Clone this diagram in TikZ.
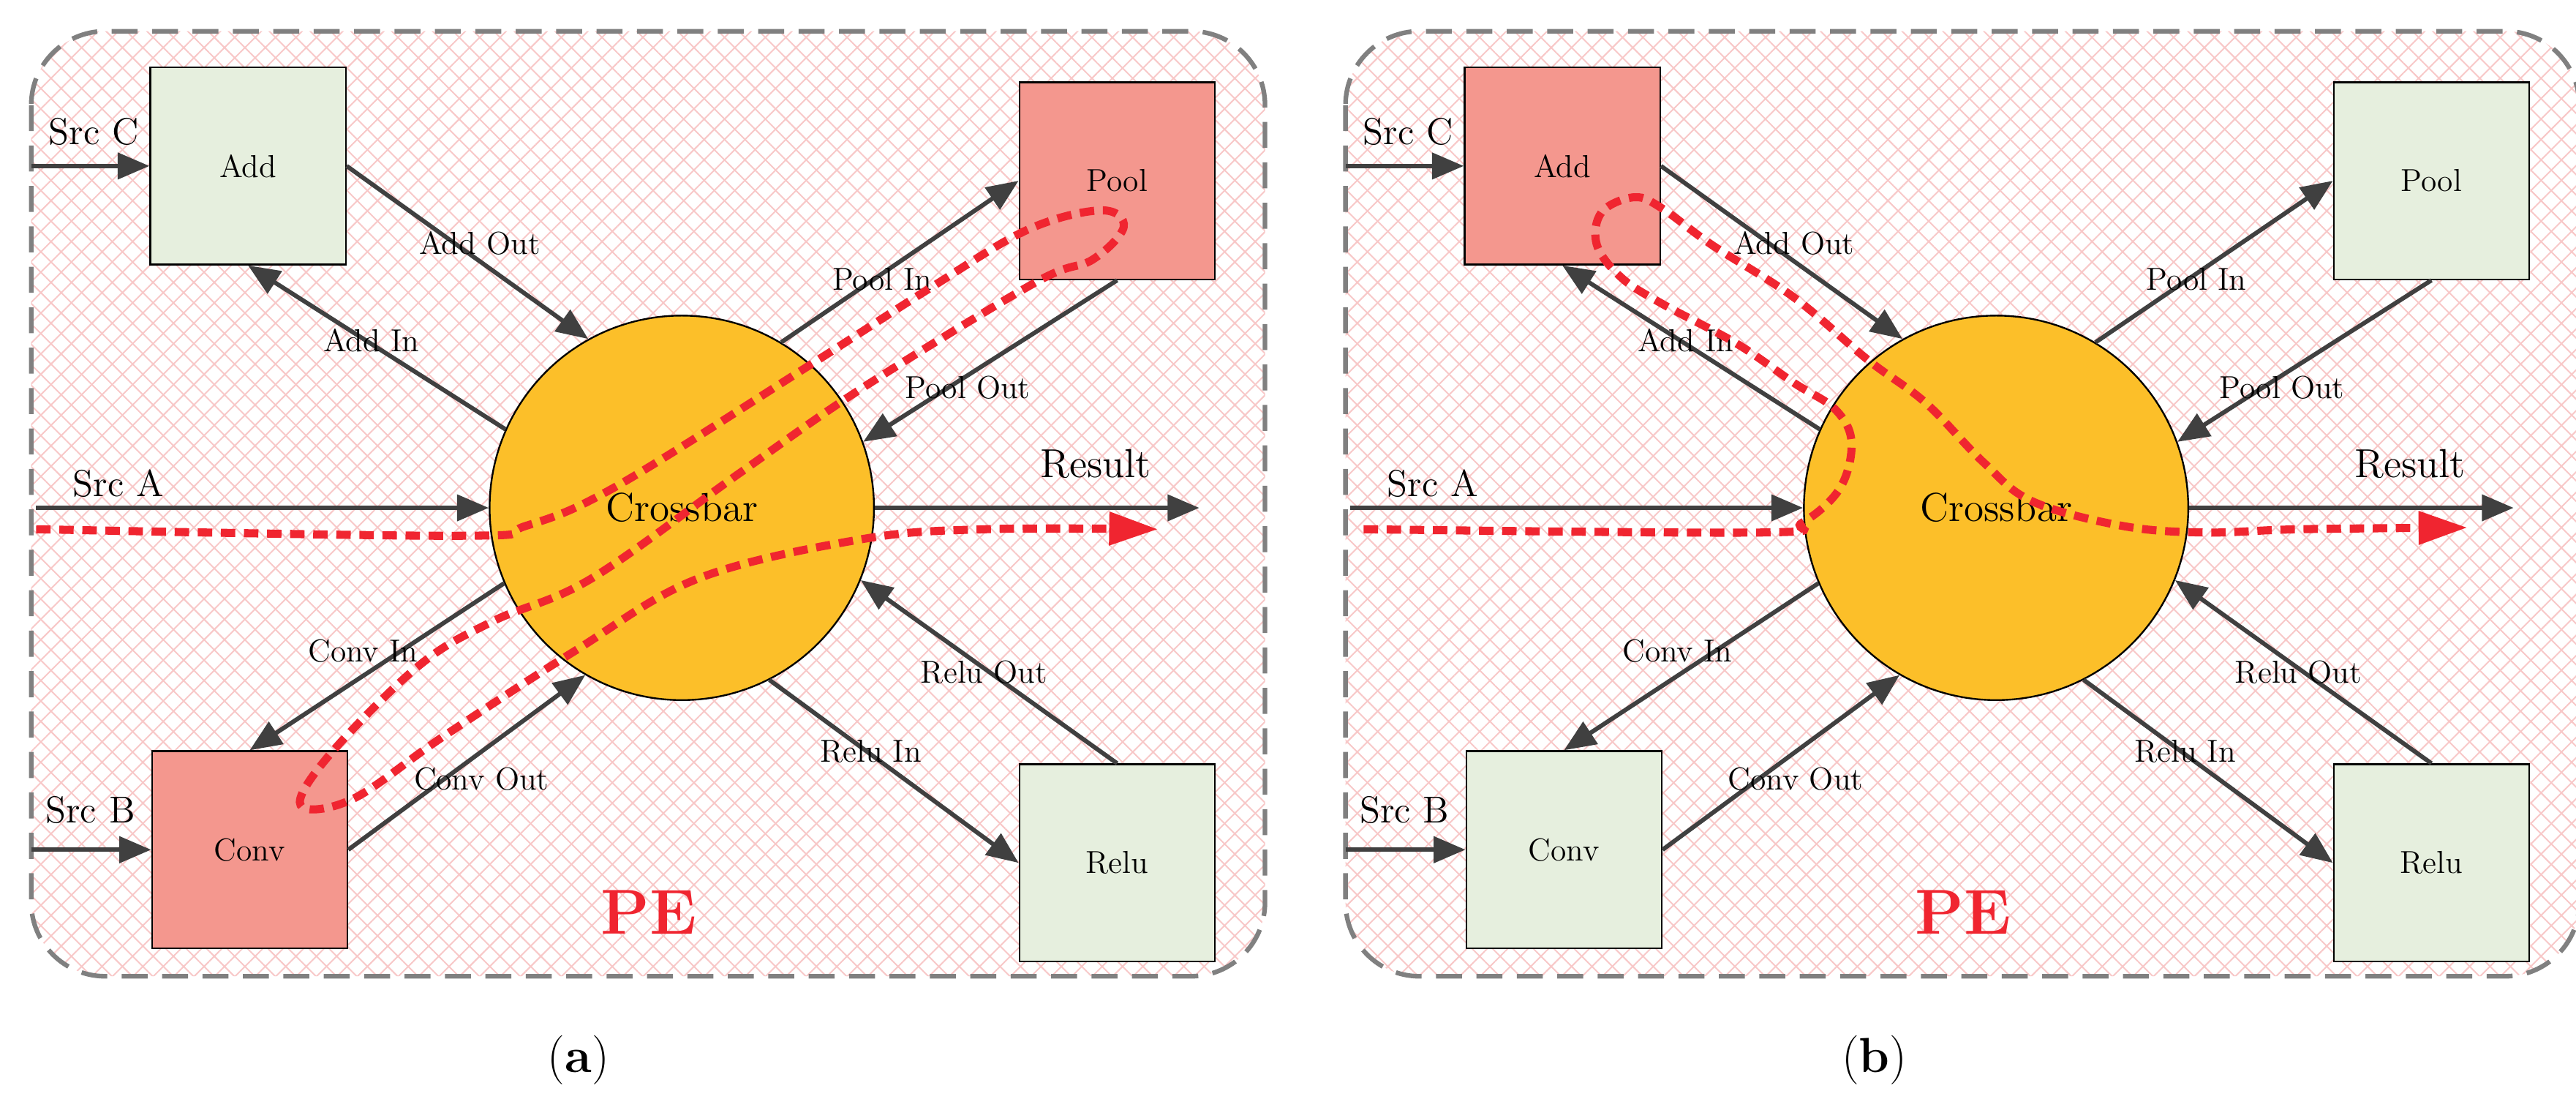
\documentclass[tikz,border=0pt]{standalone}
\usetikzlibrary{arrows.meta,patterns.meta}
\definecolor{boxg}{RGB}{230,239,222}
\definecolor{boxr}{RGB}{244,151,142}
\definecolor{cbar}{RGB}{252,191,41}
\definecolor{arr}{RGB}{64,64,64}
\definecolor{redp}{RGB}{240,37,48}
\definecolor{hatch}{RGB}{248,200,200}
\definecolor{frm}{RGB}{128,128,128}
\tikzset{
  unit box/.style={draw=black,line width=0.6pt,minimum width=2.38cm,minimum height=2.4cm,inner sep=0pt,font=\fontsize{11}{13}\selectfont},
  conn/.style={draw=arr,line width=1.5pt,-{Triangle[length=11pt,width=9pt]}},
  lbl/.style={font=\fontsize{11}{13}\selectfont,inner sep=0pt},
  src/.style={font=\fontsize{13}{15}\selectfont,inner sep=0pt},
  route/.style={draw=redp,line width=2.8pt,dash pattern=on 5pt off 3pt,-{Triangle[length=17pt,width=11pt]}},
}
\newcommand{\pepanel}[5]{%
\begin{scope}[xshift=#1*0.02cm,name prefix=#2-]
  \path[fill=white,rounded corners=0.9cm] (19,19) rectangle (770,594);
  \path[pattern={Lines[angle=45,distance=5pt,line width=0.5pt]},pattern color=hatch,rounded corners=0.9cm] (19,19) rectangle (770,594);
  \path[pattern={Lines[angle=-45,distance=5pt,line width=0.5pt]},pattern color=hatch,rounded corners=0.9cm] (19,19) rectangle (770,594);
  \draw[frm,line width=1.6pt,dash pattern=on 9pt off 5pt,rounded corners=0.9cm] (19,19) rectangle (770,594);
  \node[unit box,fill=#3] (add) at (151,101) {Add};
  \node[unit box,fill=#4] (pool) at (680,110) {Pool};
  \node[unit box,fill=#5] (conv) at (152,517) {Conv};
  \node[unit box,fill=boxg] (relu) at (680,525) {Relu};
  \node[circle,draw=black,line width=0.6pt,fill=cbar,minimum size=4.68cm,inner sep=0pt,font=\fontsize{14}{16}\selectfont] (cb) at (415,309) {Crossbar};
  \coordinate (sc) at (19,101);
  \coordinate (sb) at (19,517);
  \coordinate (sa) at (22,309);
  \coordinate (res) at (730,309);
  \draw[conn] (sc) -- (add.west);
  \draw[conn] (sb) -- (conv.west);
  \draw[conn] (sa) -- (cb.west);
  \draw[conn] (cb.east) -- (res);
  \draw[conn] (add.east) -- (cb.119);
  \draw[conn] (cb.156) -- (add.south);
  \draw[conn] (cb.59) -- (pool.west);
  \draw[conn] (pool.south) -- (cb.20);
  \draw[conn] (cb.203) -- (conv.north);
  \draw[conn] (conv.east) -- (cb.240);
  \draw[conn] (cb.297) -- (relu.west);
  \draw[conn] (relu.north) -- (cb.338);
  \node[src] (lsc) at (57,80) {Src C};
  \node[src] (lsb) at (55,493) {Src B};
  \node[src] (lsa) at (72,294) {Src A};
  \node[font=\fontsize{14}{16}\selectfont,inner sep=0pt] (lres) at (667,282) {Result};
  \node[lbl] (lao) at (292,148) {Add Out};
  \node[lbl] (lai) at (226,207) {Add In};
  \node[lbl] (lpi) at (537,170) {Pool In};
  \node[lbl] (lpo) at (589,236) {Pool Out};
  \node[lbl] (lci) at (221,396) {Conv In};
  \node[lbl] (lco) at (293,474) {Conv Out};
  \node[lbl] (lri) at (530,457) {Relu In};
  \node[lbl] (lro) at (599,409) {Relu Out};
  \node[text=redp,font=\bfseries\fontsize{22}{24}\selectfont,inner sep=0pt] (pe) at (395,555) {PE};
\end{scope}}
\begin{document}
\begin{tikzpicture}[x=0.02cm,y=-0.02cm]
\useasboundingbox (0,0) rectangle (1568,675);
\pepanel{0}{a}{boxg}{boxr}{boxr}
\draw[route] plot[smooth,tension=0.6] coordinates {(22,322) (280,326) (320,320) (375,296) (490,224) (565,176) (625,140) (670,128) (684,138) (665,158) (630,172) (525,236) (450,288) (360,352) (300,378) (255,405) (200,460) (183,490) (215,486) (270,448) (350,396) (425,352) (525,328) (600,322) (705,322)};
\pepanel{800}{b}{boxr}{boxg}{boxg}
\draw[route] plot[smooth,tension=0.6] coordinates {(830,322) (1072,324) (1097,318) (1120,297) (1127,269) (1117,249) (1092,233) (1057,209) (1012,185) (987,169) (972,149) (975,129) (995,120) (1012,127) (1042,149) (1092,181) (1137,219) (1172,245) (1207,281) (1237,305) (1292,320) (1342,324) (1400,322) (1502,321)};
\node[font=\fontsize{17}{19}\selectfont,inner sep=0pt] (capa) at (352,645) {(\textbf{a})};
\node[font=\fontsize{17}{19}\selectfont,inner sep=0pt] (capb) at (1141,645) {(\textbf{b})};
\end{tikzpicture}
\end{document}
